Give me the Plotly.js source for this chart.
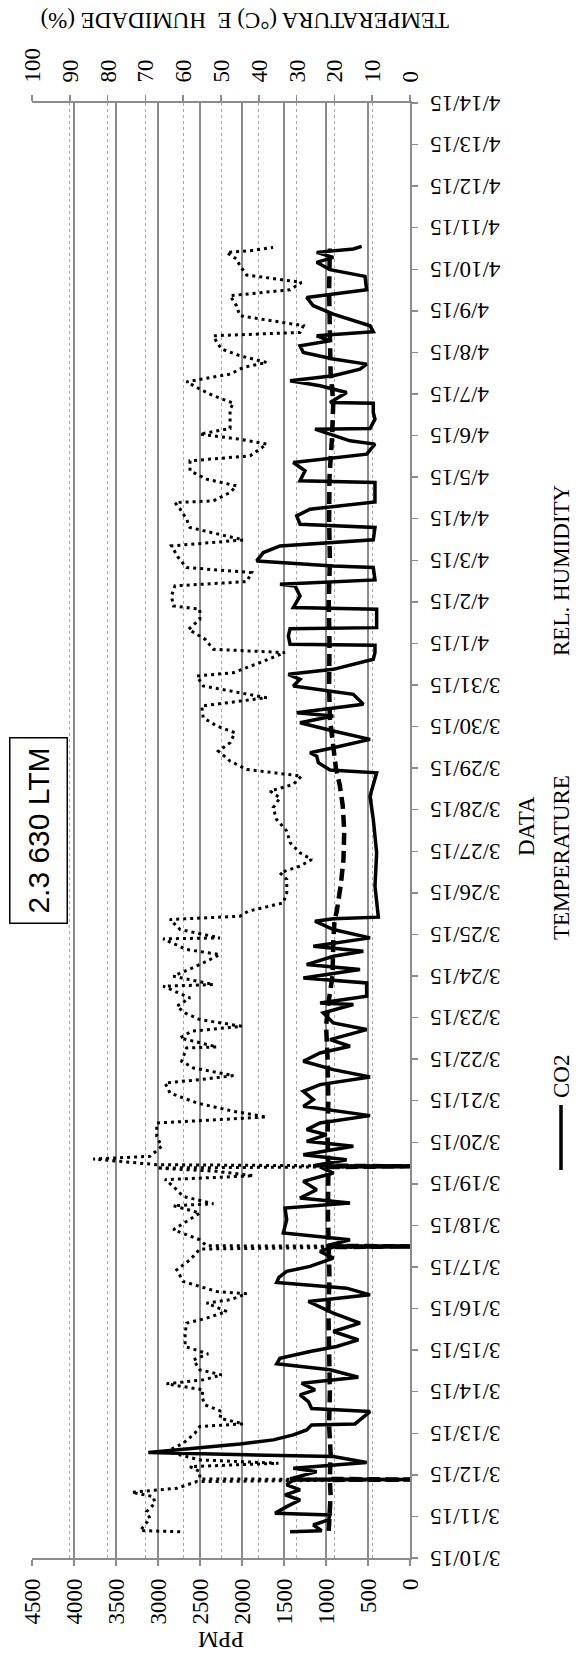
<!DOCTYPE html>
<html>
<head>
<meta charset="utf-8">
<script src="https://cdn.plot.ly/plotly-3.0.1.min.js"></script>
<style>
html, body { margin:0; padding:0; background:#fff; width:576px; height:1661px; overflow:hidden; }
#chart { position:absolute; left:0; top:1661px; width:1661px; height:576px; transform-origin:0 0; transform:rotate(-90deg); }
</style>
</head>
<body>
<div id="chart"></div>
<script>
// Day offsets are counted from 2015-03-10 00:00
const co2Day = [0.634,0.658,0.794,0.915,1.035,1.075,1.236,1.396,1.517,1.637,1.757,1.878,1.886,1.902,2.078,2.159,2.295,2.439,2.536,2.640,2.744,2.841,2.961,3.081,3.202,3.226,3.523,3.595,3.763,3.924,4.044,4.205,4.349,4.526,4.670,4.806,4.967,5.087,5.248,5.448,5.649,5.890,6.170,6.331,6.491,6.628,6.75,6.894,7.014,7.215,7.375,7.479,7.495,7.511,7.656,7.816,8.137,8.418,8.538,8.659,8.859,9.060,9.261,9.405,9.421,9.437,9.582,9.702,9.822,9.903,10.023,10.183,10.304,10.464,10.641,10.865,11.026,11.226,11.387,11.571,11.748,11.949,12.149,12.310,12.470,12.711,12.871,13.112,13.313,13.353,13.513,13.834,13.954,14.155,14.275,14.476,14.596,14.717,14.917,15.118,15.319,15.375,15.415,16.161,16.964,17.766,18.328,18.889,18.953,19.130,19.290,19.371,19.491,19.692,19.892,20.093,20.254,20.334,20.535,20.776,20.976,21.137,21.257,21.377,21.618,21.779,21.955,21.979,22.180,22.356,22.380,22.822,22.862,23.143,23.383,23.424,23.528,23.825,23.865,23.985,24.186,24.346,24.491,24.788,24.868,25.068,25.229,25.405,25.871,25.911,26.152,26.352,26.553,26.794,26.874,27.074,27.155,27.171,27.395,27.556,27.780,27.796,28.037,28.198,28.318,28.438,28.599,28.719,28.840,29.000,29.160,29.281,29.401,29.497,29.642,29.923,30.123,30.324,30.508,30.829,30.990,31.167,31.287,31.407,31.487,31.552];
const co2Ppm = [1428,1052,1151,972,952,1607,1468,1309,1488,1309,1468,1389,0,1428,1111,1389,516,913,3115,2540,2024,1627,1389,1230,1171,655,476,1171,1210,1309,1131,1290,615,952,1587,1548,1190,873,615,913,595,913,1210,476,754,1587,1560,1468,1190,913,1071,913,0,992,714,1508,1468,1488,714,1309,1111,1270,913,1071,0,1151,754,1270,913,675,1230,992,1230,1071,476,1270,1151,1270,1071,476,913,1270,1071,714,952,516,913,1032,675,1071,516,516,1270,595,1230,913,556,1151,476,913,1131,913,377,417,397,437,476,397,952,1091,1111,1190,913,476,913,1309,913,1349,556,675,1389,1309,1448,913,437,417,417,1428,1448,1428,397,397,1389,1309,1369,1548,417,437,913,1825,1746,1548,437,417,1309,1349,1190,417,417,1309,1250,1389,516,417,714,1032,1131,476,417,437,437,952,754,1071,1428,913,595,516,913,1270,1309,952,1111,437,476,913,1151,1230,516,536,952,1111,913,1111,675,575];

const tempDay = [0.65,1.0,1.5,1.878,1.886,1.902,2.5,3.2,4.0,5.0,6.0,6.7,7.3,7.479,7.495,7.511,8.2,9.0,9.405,9.421,9.437,10.2,11.0,12.0,12.8,13.4,14.0,14.8,15.3,15.6,16.2,16.8,17.5,18.1,18.6,19.0,19.6,20.2,21.0,22.0,23.0,24.0,25.0,26.0,27.0,27.8,28.5,29.5,30.5,31.5];
const tempC = [21.5,21.3,21.0,21.2,0,21.2,21.0,21.4,21.2,21.4,21.6,21.3,21.5,21.5,0,21.5,21.7,21.5,21.6,0,21.6,21.8,21.6,21.8,22.2,21.5,20.5,20.3,20.0,19.3,18.3,17.6,17.4,17.8,18.6,19.6,20.5,21.2,21.4,21.3,21.5,21.2,21.4,21.3,20.6,20.3,21.0,21.2,21.4,21.2];

const humDay = [0.63,0.66,0.754,0.955,1.115,1.316,1.476,1.581,1.677,1.838,1.886,1.902,2.078,2.199,2.279,2.359,2.560,2.760,3.001,3.162,3.226,3.362,3.523,3.683,3.884,4.044,4.189,4.285,4.405,4.526,4.766,4.911,5.087,5.408,5.649,5.769,5.930,6.130,6.211,6.355,6.411,6.531,6.652,6.933,7.174,7.431,7.495,7.511,7.656,7.897,8.097,8.298,8.474,8.522,8.699,8.940,9.100,9.196,9.301,9.381,9.421,9.461,9.597,9.662,9.903,10.143,10.464,10.609,10.745,10.946,11.186,11.427,11.507,11.604,11.788,11.949,12.270,12.294,12.510,12.671,12.791,12.952,13.112,13.273,13.473,13.754,13.794,13.994,14.275,14.516,14.637,14.893,14.917,15.118,15.359,15.439,15.559,15.760,16.001,16.322,16.482,16.642,16.803,16.963,17.204,17.485,17.766,18.047,18.287,18.448,18.608,18.809,18.969,19.170,19.411,19.611,19.852,20.013,20.214,20.495,20.695,20.816,20.976,21.217,21.297,21.538,21.779,21.859,22.100,22.340,22.581,22.822,22.902,23.143,23.384,23.488,23.704,23.825,24.065,24.346,24.491,24.788,24.988,25.229,25.389,25.430,25.630,25.791,25.951,26.152,26.392,26.513,26.689,26.794,26.914,27.034,27.171,27.395,27.636,27.780,27.957,28.117,28.294,28.478,28.639,28.759,28.920,29.080,29.241,29.401,29.481,29.642,29.883,30.123,30.364,30.508,30.685,30.862,31.086,31.247,31.407,31.447,31.527];
const humPct = [60.8,71.4,70.5,68.8,69.7,67.5,67.9,73.6,61.7,56.4,0,55.6,55.6,58.2,34.8,55.6,64.4,60.0,56.9,55.6,44.1,50.3,49.8,54.2,55.1,54.7,64.4,54.7,49.8,55.6,57.3,53.4,59.5,59.5,59.1,53.8,48.5,53.8,47.6,43.2,51.1,55.6,60.0,61.7,58.2,55.6,0,53.8,55.6,62.6,59.1,55.6,62.6,52.0,60.0,62.6,64.8,41.4,51.1,67.0,0,67.0,83.8,68.8,65.7,67.0,67.0,37.9,46.7,56.4,63.5,64.8,55.6,46.7,57.3,60.4,59.1,51.1,60.8,57.8,44.5,55.6,59.5,61.7,58.2,65.3,52.0,62.6,55.6,50.3,59.1,65.3,50.3,60.8,63.5,45.0,42.8,33.5,32.6,32.6,34.4,29.1,26.0,29.1,31.7,32.6,35.3,36.2,34.4,37.0,30.9,28.7,43.2,47.6,50.7,47.6,46.3,51.1,54.7,55.1,37.9,45.0,54.7,56.4,46.7,39.7,33.1,52.0,54.2,58.6,55.6,55.6,62.6,63.1,62.2,43.2,41.9,59.1,61.3,63.1,44.1,58.2,59.1,60.8,62.2,52.0,47.6,45.9,53.8,58.2,58.2,42.3,39.7,37.9,45.0,55.6,47.6,47.6,47.6,46.7,52.0,55.6,59.1,47.6,44.1,37.9,45.0,49.8,51.1,52.0,29.1,28.2,45.0,45.9,47.6,31.7,28.7,43.2,45.0,45.9,48.5,42.3,36.2];

const seriesNames = ['CO2', 'TEMPERATURE', 'REL. HUMIDITY'];
const chartTitle = '2.3 630 LTM';
const xTitle = 'DATA';
const yTitle = 'PPM';
const y2Title = 'TEMPERATURA (°C) E\u00A0 HUMIDADE (%)';

function dayToStr(d) {
  const ms = Date.UTC(2015, 2, 10) + Math.round(d * 86400000);
  return new Date(ms).toISOString().replace('T', ' ').slice(0, 19);
}

const serif = 'Liberation Serif, Times New Roman, serif';
const axisGrey = '#8c8c8c';

const traces = [
  { x: co2Day.map(dayToStr), y: co2Ppm, name: seriesNames[0], type: 'scatter', mode: 'lines',
    line: { color: '#000', width: 3.5 }, yaxis: 'y', showlegend: false },
  { x: tempDay.map(dayToStr), y: tempC, name: seriesNames[1], type: 'scatter', mode: 'lines',
    line: { color: '#000', width: 4.5, dash: '12px,6px' }, yaxis: 'y2', showlegend: false },
  { x: humDay.map(dayToStr), y: humPct, name: seriesNames[2], type: 'scatter', mode: 'lines',
    line: { color: '#000', width: 3, dash: '3px,4px' }, yaxis: 'y2', showlegend: false }
];

const W = 1661, H = 576, L = 103, R = 103, T = 32, B = 166;
const pw = W - L - R, ph = H - T - B;
const px = v => (v - L) / pw;
const py = v => (H - B - v) / ph;

const layout = {
  width: W, height: H,
  margin: { l: L, r: R, t: T, b: B, pad: 0 },
  paper_bgcolor: '#fff', plot_bgcolor: '#fff',
  showlegend: false,
  xaxis: {
    type: 'date', range: [dayToStr(0), dayToStr(35)], tick0: dayToStr(0), dtick: 86400000,
    tickformat: '%-m/%-d/%y', tickangle: -90, ticks: 'outside', ticklen: 6, tickwidth: 1.5,
    tickcolor: axisGrey, showline: true, linecolor: axisGrey, linewidth: 2, showgrid: false,
    zeroline: false, tickfont: { family: serif, size: 23, color: '#000' }, ticklabelstandoff: 3
  },
  yaxis: {
    range: [0, 4500], tick0: 0, dtick: 500, ticks: 'outside', ticklen: 6, tickwidth: 1.5,
    tickcolor: axisGrey, showline: true, linecolor: axisGrey, linewidth: 2,
    showgrid: true, gridcolor: axisGrey, gridwidth: 1.6, zeroline: false,
    tickfont: { family: serif, size: 23, color: '#000' }, ticklabelstandoff: 8
  },
  yaxis2: {
    overlaying: 'y', side: 'right', range: [0, 100], tick0: 0, dtick: 10, ticks: 'outside',
    ticklen: 6, tickwidth: 1.5, tickcolor: axisGrey, showline: true, linecolor: axisGrey, linewidth: 2,
    showgrid: true, gridcolor: '#a8a8a8', gridwidth: 1, griddash: 'dot', zeroline: false,
    tickfont: { family: serif, size: 23, color: '#000' }, ticklabelstandoff: 8
  },
  shapes: [
    { type: 'line', xref: 'paper', yref: 'paper', x0: px(491), x1: px(556), y0: py(561), y1: py(561),
      line: { color: '#000', width: 3.5 } }
  ],
  annotations: [
    { text: chartTitle, xref: 'paper', yref: 'paper', x: 0.5, y: py(38), xanchor: 'center', yanchor: 'middle',
      showarrow: false, width: 184, height: 56, bgcolor: '#fff', bordercolor: '#000', borderwidth: 1.5, borderpad: 0,
      font: { family: 'Liberation Sans Narrow, Liberation Sans, Arial, sans-serif', size: 30, color: '#000' } },
    { text: yTitle, xref: 'paper', yref: 'paper', x: px(21), y: 0.5, xanchor: 'center', yanchor: 'middle',
      textangle: -90, showarrow: false, font: { family: serif, size: 23, color: '#000' } },
    { text: y2Title, xref: 'paper', yref: 'paper', x: px(1640), y: py(245), xanchor: 'center', yanchor: 'middle',
      textangle: -90, showarrow: false, font: { family: serif, size: 23, color: '#000' } },
    { text: xTitle, xref: 'paper', yref: 'paper', x: px(835), y: py(526), xanchor: 'center', yanchor: 'middle',
      showarrow: false, font: { family: serif, size: 23, color: '#000' } },
    { text: seriesNames[0], xref: 'paper', yref: 'paper', x: px(561), y: py(561), xanchor: 'left', yanchor: 'middle',
      showarrow: false, font: { family: serif, size: 23, color: '#000' } },
    { text: seriesNames[1], xref: 'paper', yref: 'paper', x: px(803), y: py(561), xanchor: 'center', yanchor: 'middle',
      showarrow: false, font: { family: serif, size: 23, color: '#000' } },
    { text: seriesNames[2], xref: 'paper', yref: 'paper', x: px(1091), y: py(561), xanchor: 'center', yanchor: 'middle',
      showarrow: false, font: { family: serif, size: 23, color: '#000' } }
  ]
};

Plotly.newPlot('chart', traces, layout, { staticPlot: true, displayModeBar: false });
</script>
</body>
</html>
